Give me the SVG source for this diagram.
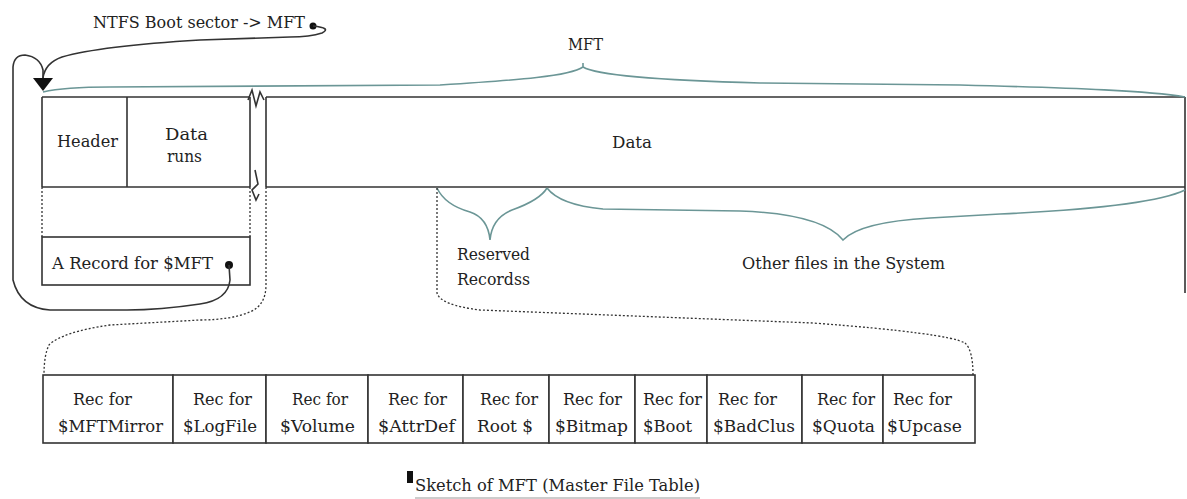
<svg xmlns="http://www.w3.org/2000/svg" width="1187" height="499" viewBox="0 0 1187 499">
<style>
text{font-family:"DejaVu Serif","Liberation Serif",serif;font-size:16px;fill:#222}
.ln{stroke:#333;stroke-width:1.6;fill:none}
.br{stroke:#6b9696;stroke-width:1.6;fill:none}
.dt{stroke:#333;stroke-width:1.3;fill:none;stroke-dasharray:2 2}
.cell{fill:#fff;stroke:#333;stroke-width:1.6}
</style>
<rect width="1187" height="499" fill="#fff"/>

<g id="mft-strip">
<path class="ln" d="M42,97 H250 M266,97 H1185 M42,187 H250 M266,187 H1185 M42,97 V187 M250,97 V187 M266,97 V187 M1185,97 V293"/>
<path class="ln" stroke-width="1.3" d="M248,100 L252,90 L256,106 L260,92 L264,100"/>
<path class="ln" stroke-width="1.3" d="M255,170 L258,184 L252,190 L256,200 L259,194"/>
</g>
<g id="header"><path class="ln" d="M127,97 V187"/><text x="57" y="147" textLength="61" lengthAdjust="spacingAndGlyphs">Header</text></g>
<g id="data-runs"><text x="165" y="140" textLength="43" lengthAdjust="spacingAndGlyphs">Data</text><text x="167" y="162" textLength="35" lengthAdjust="spacingAndGlyphs">runs</text></g>
<g id="data"><text x="612" y="148" textLength="40" lengthAdjust="spacingAndGlyphs">Data</text></g>

<g id="record-mft">
<rect x="42" y="237" width="208" height="48" class="cell"/>
<text x="52" y="269" textLength="161" lengthAdjust="spacingAndGlyphs">A Record for $MFT</text>
<circle cx="229" cy="265" r="4" fill="#111"/>
</g>

<g id="boot-label">
<text x="93" y="28" font-size="15" textLength="212" lengthAdjust="spacingAndGlyphs">NTFS Boot sector -&gt; MFT</text>
<circle cx="313" cy="26" r="3.5" fill="#111"/>
</g>

<g id="mft-label"><text x="568" y="50" font-size="13" textLength="35" lengthAdjust="spacingAndGlyphs">MFT</text></g>
<g id="reserved-label"><text x="457" y="260" font-size="15" textLength="73" lengthAdjust="spacingAndGlyphs">Reserved</text><text x="457" y="285" font-size="15" textLength="73" lengthAdjust="spacingAndGlyphs">Recordss</text></g>
<g id="other-label"><text x="742" y="269" font-size="15" textLength="203" lengthAdjust="spacingAndGlyphs">Other files in the System</text></g>

<g id="braces">
<path class="br" d="M43,92 C60,88 80,87 110,87 L440,85 C520,80 570,76 583,67 L583,63 M583,67 C596,75 650,80 760,83 L960,85 C1080,88 1150,91 1185,97"/>
<path class="br" d="M437,188 Q445,205 470,212 Q488,218 490,240 Q492,218 512,210 Q540,200 547,188"/>
<path class="br" d="M547,188 Q560,205 603,209 L740,211 Q822,214 843,240 Q860,222 930,218 L1000,214 Q1150,207 1185,190"/>
</g>

<g id="connectors">
<path class="dt" d="M42,187 V237 M250,187 V237"/>
<path class="dt" d="M266,187 V285 Q266,305 250,312 Q230,320 200,320 L110,325 Q62,332 49,345 Q44,355 44,375"/>
<path class="dt" d="M437,188 V293 Q440,305 480,310 L813,323 Q947,333 965,343 Q973,350 973,375"/>
<path class="ln" stroke-width="1.5" d="M229,265 L230,280 Q228,300 200,304 Q160,310 127,310 L50,310 Q20,308 13,280 L13,67 Q14,55 25,55 Q40,57 43,70 L43,78"/>
<path class="ln" stroke-width="1.5" d="M313,26 Q332,28 322,33 Q310,37 290,37 L200,40 Q100,46 62,57 Q45,63 43,78"/>
<polygon points="33,78 53,78 43,91" fill="#111"/>
</g>

<g id="record-table">
<g id="rec-mftmirror"><rect class="cell" x="43" y="375" width="130" height="68"/><text x="73" y="405" textLength="59" lengthAdjust="spacingAndGlyphs">Rec for</text><text x="58" y="432" textLength="105" lengthAdjust="spacingAndGlyphs">$MFTMirror</text></g>
<g id="rec-logfile"><rect class="cell" x="173" y="375" width="93" height="68"/><text x="193" y="405" textLength="59" lengthAdjust="spacingAndGlyphs">Rec for</text><text x="183" y="432" textLength="74" lengthAdjust="spacingAndGlyphs">$LogFile</text></g>
<g id="rec-volume"><rect class="cell" x="266" y="375" width="102" height="68"/><text x="292" y="405" textLength="56" lengthAdjust="spacingAndGlyphs">Rec for</text><text x="280" y="432" textLength="75" lengthAdjust="spacingAndGlyphs">$Volume</text></g>
<g id="rec-attrdef"><rect class="cell" x="368" y="375" width="95" height="68"/><text x="388" y="405" textLength="59" lengthAdjust="spacingAndGlyphs">Rec for</text><text x="378" y="432" textLength="77" lengthAdjust="spacingAndGlyphs">$AttrDef</text></g>
<g id="rec-root"><rect class="cell" x="463" y="375" width="86" height="68"/><text x="480" y="405" textLength="58" lengthAdjust="spacingAndGlyphs">Rec for</text><text x="477" y="432" textLength="56" lengthAdjust="spacingAndGlyphs">Root $</text></g>
<g id="rec-bitmap"><rect class="cell" x="549" y="375" width="86" height="68"/><text x="563" y="405" textLength="59" lengthAdjust="spacingAndGlyphs">Rec for</text><text x="555" y="432" textLength="73" lengthAdjust="spacingAndGlyphs">$Bitmap</text></g>
<g id="rec-boot"><rect class="cell" x="635" y="375" width="72" height="68"/><text x="643" y="405" textLength="59" lengthAdjust="spacingAndGlyphs">Rec for</text><text x="643" y="432" textLength="49" lengthAdjust="spacingAndGlyphs">$Boot</text></g>
<g id="rec-badclus"><rect class="cell" x="707" y="375" width="95" height="68"/><text x="718" y="405" textLength="59" lengthAdjust="spacingAndGlyphs">Rec for</text><text x="713" y="432" textLength="82" lengthAdjust="spacingAndGlyphs">$BadClus</text></g>
<g id="rec-quota"><rect class="cell" x="802" y="375" width="81" height="68"/><text x="817" y="405" textLength="58" lengthAdjust="spacingAndGlyphs">Rec for</text><text x="812" y="432" textLength="63" lengthAdjust="spacingAndGlyphs">$Quota</text></g>
<g id="rec-upcase"><rect class="cell" x="883" y="375" width="92" height="68"/><text x="893" y="405" textLength="59" lengthAdjust="spacingAndGlyphs">Rec for</text><text x="887" y="432" textLength="75" lengthAdjust="spacingAndGlyphs">$Upcase</text></g>
</g>

<g id="caption">
<rect x="407" y="471" width="6" height="12" fill="#111"/>
<text x="415" y="491" textLength="285" lengthAdjust="spacingAndGlyphs">Sketch of MFT (Master File Table)</text>
<path d="M415,498 H700" stroke="#999" stroke-width="1"/>
</g>
</svg>
